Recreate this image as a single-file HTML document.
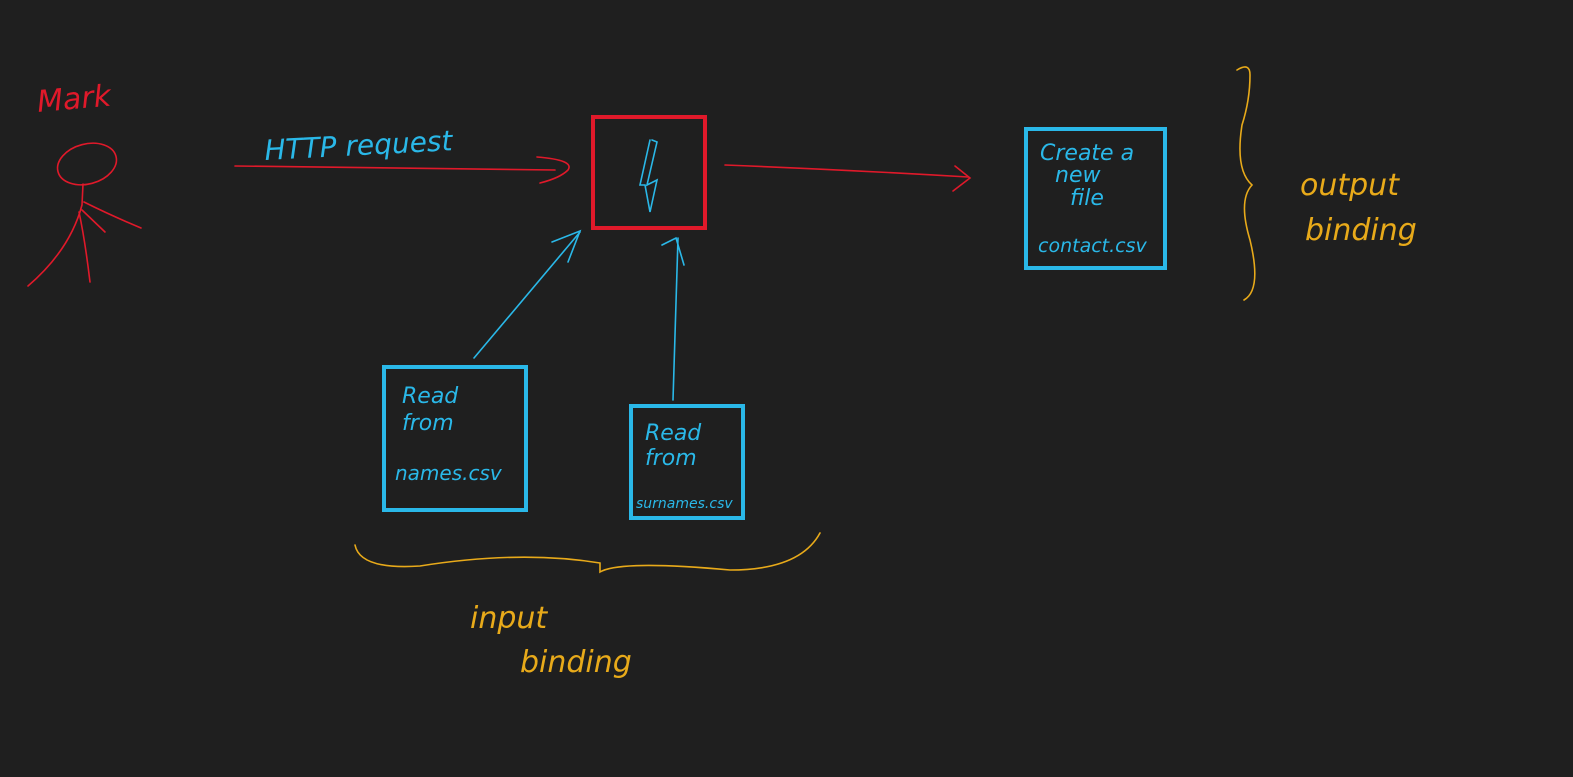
<!DOCTYPE html>
<html><head><style>
html,body{margin:0;padding:0;background:#1f1f1f;}
svg{display:block}
text{font-family:"DejaVu Sans","Liberation Sans",sans-serif;font-style:italic;font-weight:normal}
</style></head><body>
<svg width="1573" height="777" viewBox="0 0 1573 777" xmlns="http://www.w3.org/2000/svg">
<rect width="1573" height="777" fill="#1f1f1f"/>
<g fill="none" stroke="#e0192a" stroke-width="1.6" stroke-linecap="round">
 <!-- stick figure -->
 <ellipse cx="87" cy="164" rx="30" ry="20" transform="rotate(-15 87 164)"/>
 <path d="M83 184 L82 205 Q70 250 28 286"/>
 <path d="M79 212 Q85 240 90 282"/>
 <path d="M84 202 Q110 215 141 228"/>
 <path d="M82 210 L105 232"/>
 <!-- arrows -->
 <path d="M235 166 Q390 168 555 170"/>
 <path d="M537 157 Q575 160 568 170 Q560 178 540 183"/>
 <path d="M725 165 Q850 170 968 177"/>
 <path d="M955 166 L970 178 L953 191"/>
</g>
<text x="38" y="112" fill="#e0192a" font-size="30" transform="rotate(-5 38 112)">Mark</text>
<rect x="593" y="117" width="112" height="111" fill="none" stroke="#e0192a" stroke-width="4"/>
<g fill="none" stroke="#2ab8e8" stroke-width="1.6" stroke-linecap="round">
 <path d="M652 140 L657 142 L647 185 L657 180 L650 212 L645 185 L640 185 L650 140"/>
 <path d="M474 358 L580 232"/>
 <path d="M552 242 L580 231 L568 262"/>
 <path d="M673 400 L678 238"/>
 <path d="M662 245 L676 238 L684 265"/>
</g>
<text x="265" y="160" fill="#2ab8e8" font-size="28" transform="rotate(-3 265 160)">HTTP request</text>
<g fill="none" stroke="#2ab8e8" stroke-width="4">
 <rect x="1026" y="129" width="139" height="139"/>
 <rect x="384" y="367" width="142" height="143"/>
 <rect x="631" y="406" width="112" height="112"/>
</g>
<g fill="#2ab8e8" font-size="22">
 <text x="1040" y="160">Create a</text>
 <text x="1055" y="182">new</text>
 <text x="1070" y="205">file</text>
 <text x="1038" y="252" font-size="19">contact.csv</text>
 <text x="402" y="403">Read</text>
 <text x="402" y="430">from</text>
 <text x="395" y="480" font-size="20">names.csv</text>
 <text x="645" y="440">Read</text>
 <text x="645" y="465">from</text>
 <text x="636" y="508" font-size="14">surnames.csv</text>
</g>
<g fill="none" stroke="#e8aa1a" stroke-width="1.6" stroke-linecap="round">
 <path d="M1237 70 Q1250 62 1250 75 Q1250 100 1242 125 Q1235 170 1252 185 Q1238 200 1250 240 Q1262 290 1244 300"/>
 <path d="M355 545 Q360 570 420 566 Q520 550 600 563 L600 572 Q620 560 730 570 Q800 570 820 533"/>
</g>
<g fill="#e8aa1a" font-size="30">
 <text x="1300" y="195">output</text>
 <text x="1305" y="240">binding</text>
 <text x="470" y="628">input</text>
 <text x="520" y="672">binding</text>
</g>
</svg>
</body></html>
